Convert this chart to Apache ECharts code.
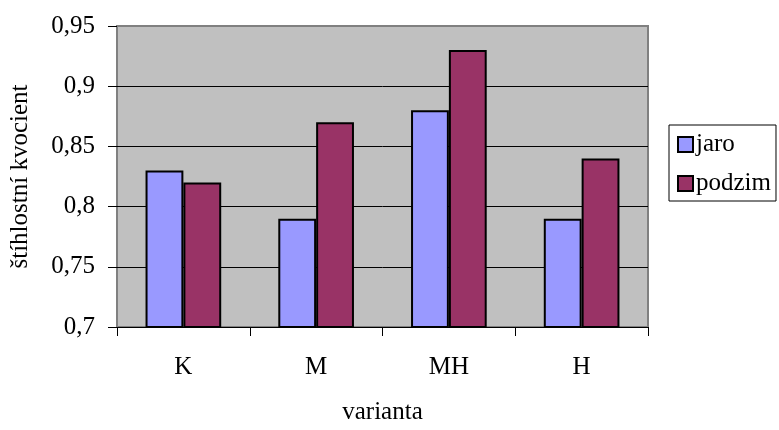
<!DOCTYPE html>
<html>
<head>
<meta charset="utf-8">
<script src="https://cdn.jsdelivr.net/npm/echarts@6/dist/echarts.min.js"></script>
<style>
  html, body { margin: 0; padding: 0; background: #fff; }
  #chart { width: 779px; height: 430px; }
</style>
</head>
<body>
<div id="chart"></div>
<script>
// Categories (varianta) and two seasonal series
const categories = ['K', 'M', 'MH', 'H'];
const jaro = [0.83, 0.79, 0.88, 0.79];
const podzim = [0.82, 0.87, 0.93, 0.84];
const yMin = 0.7, yMax = 0.95, yStep = 0.05;

const serif = '"Liberation Serif", "Times New Roman", serif';
const fs = 25;
const fmt = v => String(Math.round(v * 100) / 100).replace('.', ',');

const chart = echarts.init(document.getElementById('chart'));
chart.setOption({
  animation: false,
  grid: {
    left: 116, right: 131, top: 26, bottom: 96,
    show: true, backgroundColor: '#C0C0C0',
    borderColor: '#808080', borderWidth: 2
  },
  legend: {
    orient: 'vertical',
    left: 669, top: 125,
    padding: [7, 5, 5, 8],
    itemGap: 14,
    itemWidth: 15, itemHeight: 15,
    backgroundColor: '#fff',
    borderColor: '#000', borderWidth: 1,
    textStyle: { fontFamily: serif, fontSize: fs, color: '#000', padding: [0, 0, 0, -2] },
    data: [
      { name: 'jaro', icon: 'rect', itemStyle: { borderColor: '#000', borderWidth: 2 } },
      { name: 'podzim', icon: 'rect', itemStyle: { borderColor: '#000', borderWidth: 2 } }
    ]
  },
  xAxis: {
    type: 'category',
    data: categories,
    name: 'varianta',
    nameLocation: 'middle',
    nameGap: 73,
    nameTextStyle: { fontFamily: serif, fontSize: fs, color: '#000' },
    axisLine: { show: true, lineStyle: { color: '#000', width: 1 } },
    axisTick: { show: true, alignWithLabel: false, length: 9, lineStyle: { color: '#000' } },
    axisLabel: { fontFamily: serif, fontSize: fs, color: '#000', margin: 28 },
    splitLine: { show: false }
  },
  yAxis: {
    type: 'value',
    min: yMin, max: yMax, interval: yStep,
    name: 'štíhlostní kvocient',
    nameLocation: 'middle',
    nameGap: 84,
    nameRotate: 90,
    nameTextStyle: { fontFamily: serif, fontSize: fs, color: '#000' },
    axisLine: { show: false },
    axisTick: { show: true, length: 9, lineStyle: { color: '#000' } },
    axisLabel: { fontFamily: serif, fontSize: fs, color: '#000', margin: 22, formatter: fmt },
    splitLine: {
      show: true, showMinLine: false, showMaxLine: false,
      lineStyle: { color: '#000', width: 1 }
    }
  },
  series: [
    {
      name: 'jaro', type: 'bar', data: jaro,
      barGap: '0%', barCategoryGap: '43%',
      itemStyle: { color: '#9999FF', borderColor: '#000', borderWidth: 2 }
    },
    {
      name: 'podzim', type: 'bar', data: podzim,
      itemStyle: { color: '#993366', borderColor: '#000', borderWidth: 2 }
    }
  ]
});
</script>
</body>
</html>
